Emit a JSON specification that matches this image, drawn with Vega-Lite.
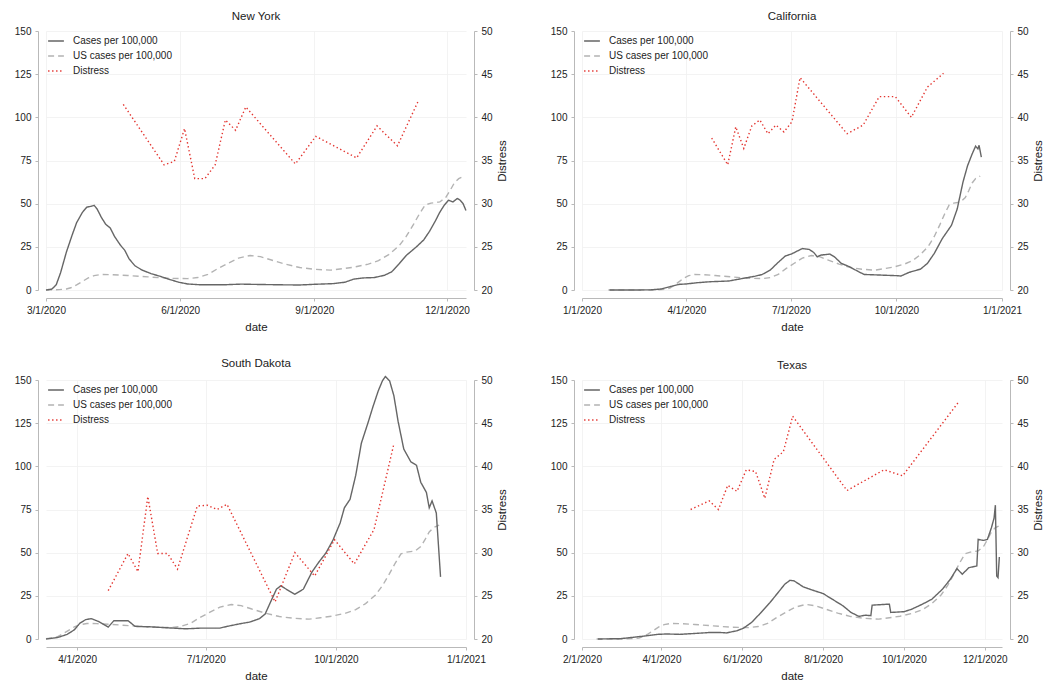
{
  "$schema": "https://vega.github.io/schema/vega-lite/v6.json",
  "description": "Cases per 100,000 vs distress, four states",
  "background": "white",
  "padding": {"left": 14, "top": 10, "right": 4, "bottom": 4},
  "config": {
    "font": "Liberation Sans",
    "view": {"stroke": null},
    "axis": {
      "labelFontSize": 10, "labelColor": "#222222", "labelPadding": 4,
      "titleFontSize": 11.5, "titleFontWeight": "normal", "titleColor": "#222222",
      "domainColor": "#b9b9b9", "tickColor": "#b9b9b9", "tickSize": 3,
      "gridColor": "#f0f0f0", "gridWidth": 0.8
    },
    "axisX": {"titlePadding": 6},
    "title": {"fontSize": 11.5, "fontWeight": "normal", "color": "#222222", "offset": 4},
    "legend": {
      "orient": "top-left", "title": null, "offset": 1, "padding": 0,
      "labelFontSize": 10, "labelColor": "#222222", "labelOffset": 8,
      "symbolType": "stroke", "symbolSize": 250, "symbolStrokeWidth": 1.1, "rowPadding": 1
    },
    "line": {"strokeWidth": 1.4}
  },
  "datasets": {
    "cases": [
      {"state": "US", "date": "2020-01-24", "series": "US cases per 100,000", "value": 0},
      {"state": "US", "date": "2020-02-12", "series": "US cases per 100,000", "value": 0},
      {"state": "US", "date": "2020-03-01", "series": "US cases per 100,000", "value": 0},
      {"state": "US", "date": "2020-03-10", "series": "US cases per 100,000", "value": 0.2},
      {"state": "US", "date": "2020-03-15", "series": "US cases per 100,000", "value": 0.6},
      {"state": "US", "date": "2020-03-18", "series": "US cases per 100,000", "value": 1.3},
      {"state": "US", "date": "2020-03-22", "series": "US cases per 100,000", "value": 3},
      {"state": "US", "date": "2020-03-26", "series": "US cases per 100,000", "value": 5},
      {"state": "US", "date": "2020-03-30", "series": "US cases per 100,000", "value": 7},
      {"state": "US", "date": "2020-04-03", "series": "US cases per 100,000", "value": 8.3},
      {"state": "US", "date": "2020-04-08", "series": "US cases per 100,000", "value": 9},
      {"state": "US", "date": "2020-04-15", "series": "US cases per 100,000", "value": 8.9},
      {"state": "US", "date": "2020-04-26", "series": "US cases per 100,000", "value": 8.4},
      {"state": "US", "date": "2020-05-10", "series": "US cases per 100,000", "value": 7.6},
      {"state": "US", "date": "2020-05-24", "series": "US cases per 100,000", "value": 6.8},
      {"state": "US", "date": "2020-06-06", "series": "US cases per 100,000", "value": 6.6},
      {"state": "US", "date": "2020-06-13", "series": "US cases per 100,000", "value": 7.2},
      {"state": "US", "date": "2020-06-20", "series": "US cases per 100,000", "value": 9},
      {"state": "US", "date": "2020-06-27", "series": "US cases per 100,000", "value": 12.5},
      {"state": "US", "date": "2020-07-04", "series": "US cases per 100,000", "value": 15.5},
      {"state": "US", "date": "2020-07-11", "series": "US cases per 100,000", "value": 18.5},
      {"state": "US", "date": "2020-07-19", "series": "US cases per 100,000", "value": 20},
      {"state": "US", "date": "2020-07-26", "series": "US cases per 100,000", "value": 19.3},
      {"state": "US", "date": "2020-08-02", "series": "US cases per 100,000", "value": 17.5},
      {"state": "US", "date": "2020-08-12", "series": "US cases per 100,000", "value": 15},
      {"state": "US", "date": "2020-08-22", "series": "US cases per 100,000", "value": 13},
      {"state": "US", "date": "2020-09-01", "series": "US cases per 100,000", "value": 12},
      {"state": "US", "date": "2020-09-12", "series": "US cases per 100,000", "value": 11.5},
      {"state": "US", "date": "2020-09-20", "series": "US cases per 100,000", "value": 12.3},
      {"state": "US", "date": "2020-09-28", "series": "US cases per 100,000", "value": 13.2},
      {"state": "US", "date": "2020-10-08", "series": "US cases per 100,000", "value": 15},
      {"state": "US", "date": "2020-10-15", "series": "US cases per 100,000", "value": 17},
      {"state": "US", "date": "2020-10-22", "series": "US cases per 100,000", "value": 20.5},
      {"state": "US", "date": "2020-10-29", "series": "US cases per 100,000", "value": 25.5},
      {"state": "US", "date": "2020-11-03", "series": "US cases per 100,000", "value": 31},
      {"state": "US", "date": "2020-11-08", "series": "US cases per 100,000", "value": 38},
      {"state": "US", "date": "2020-11-12", "series": "US cases per 100,000", "value": 44},
      {"state": "US", "date": "2020-11-16", "series": "US cases per 100,000", "value": 49.3},
      {"state": "US", "date": "2020-11-20", "series": "US cases per 100,000", "value": 50.3},
      {"state": "US", "date": "2020-11-26", "series": "US cases per 100,000", "value": 51},
      {"state": "US", "date": "2020-11-30", "series": "US cases per 100,000", "value": 53.5},
      {"state": "US", "date": "2020-12-03", "series": "US cases per 100,000", "value": 57.5},
      {"state": "US", "date": "2020-12-06", "series": "US cases per 100,000", "value": 62},
      {"state": "US", "date": "2020-12-09", "series": "US cases per 100,000", "value": 64.5},
      {"state": "US", "date": "2020-12-13", "series": "US cases per 100,000", "value": 66},

      {"state": "New York", "date": "2020-03-01", "series": "Cases per 100,000", "value": 0},
      {"state": "New York", "date": "2020-03-05", "series": "Cases per 100,000", "value": 0.5},
      {"state": "New York", "date": "2020-03-08", "series": "Cases per 100,000", "value": 3},
      {"state": "New York", "date": "2020-03-11", "series": "Cases per 100,000", "value": 10},
      {"state": "New York", "date": "2020-03-15", "series": "Cases per 100,000", "value": 22},
      {"state": "New York", "date": "2020-03-19", "series": "Cases per 100,000", "value": 32},
      {"state": "New York", "date": "2020-03-22", "series": "Cases per 100,000", "value": 39},
      {"state": "New York", "date": "2020-03-26", "series": "Cases per 100,000", "value": 45},
      {"state": "New York", "date": "2020-03-29", "series": "Cases per 100,000", "value": 48},
      {"state": "New York", "date": "2020-04-01", "series": "Cases per 100,000", "value": 48.5},
      {"state": "New York", "date": "2020-04-03", "series": "Cases per 100,000", "value": 49},
      {"state": "New York", "date": "2020-04-05", "series": "Cases per 100,000", "value": 47},
      {"state": "New York", "date": "2020-04-08", "series": "Cases per 100,000", "value": 42},
      {"state": "New York", "date": "2020-04-11", "series": "Cases per 100,000", "value": 38},
      {"state": "New York", "date": "2020-04-14", "series": "Cases per 100,000", "value": 36},
      {"state": "New York", "date": "2020-04-17", "series": "Cases per 100,000", "value": 31},
      {"state": "New York", "date": "2020-04-21", "series": "Cases per 100,000", "value": 26},
      {"state": "New York", "date": "2020-04-24", "series": "Cases per 100,000", "value": 23},
      {"state": "New York", "date": "2020-04-27", "series": "Cases per 100,000", "value": 18},
      {"state": "New York", "date": "2020-05-01", "series": "Cases per 100,000", "value": 14},
      {"state": "New York", "date": "2020-05-06", "series": "Cases per 100,000", "value": 11.5},
      {"state": "New York", "date": "2020-05-12", "series": "Cases per 100,000", "value": 9.5},
      {"state": "New York", "date": "2020-05-18", "series": "Cases per 100,000", "value": 8},
      {"state": "New York", "date": "2020-05-24", "series": "Cases per 100,000", "value": 6.3},
      {"state": "New York", "date": "2020-05-31", "series": "Cases per 100,000", "value": 4.5},
      {"state": "New York", "date": "2020-06-06", "series": "Cases per 100,000", "value": 3.5},
      {"state": "New York", "date": "2020-06-15", "series": "Cases per 100,000", "value": 3},
      {"state": "New York", "date": "2020-06-30", "series": "Cases per 100,000", "value": 3},
      {"state": "New York", "date": "2020-07-13", "series": "Cases per 100,000", "value": 3.4},
      {"state": "New York", "date": "2020-07-25", "series": "Cases per 100,000", "value": 3.2},
      {"state": "New York", "date": "2020-08-10", "series": "Cases per 100,000", "value": 3},
      {"state": "New York", "date": "2020-08-22", "series": "Cases per 100,000", "value": 2.9},
      {"state": "New York", "date": "2020-09-01", "series": "Cases per 100,000", "value": 3.3},
      {"state": "New York", "date": "2020-09-14", "series": "Cases per 100,000", "value": 3.7},
      {"state": "New York", "date": "2020-09-22", "series": "Cases per 100,000", "value": 4.5},
      {"state": "New York", "date": "2020-09-28", "series": "Cases per 100,000", "value": 6.3},
      {"state": "New York", "date": "2020-10-05", "series": "Cases per 100,000", "value": 7},
      {"state": "New York", "date": "2020-10-12", "series": "Cases per 100,000", "value": 7.2},
      {"state": "New York", "date": "2020-10-19", "series": "Cases per 100,000", "value": 8.5},
      {"state": "New York", "date": "2020-10-24", "series": "Cases per 100,000", "value": 10.5},
      {"state": "New York", "date": "2020-10-29", "series": "Cases per 100,000", "value": 15},
      {"state": "New York", "date": "2020-11-03", "series": "Cases per 100,000", "value": 20},
      {"state": "New York", "date": "2020-11-10", "series": "Cases per 100,000", "value": 25},
      {"state": "New York", "date": "2020-11-15", "series": "Cases per 100,000", "value": 29},
      {"state": "New York", "date": "2020-11-19", "series": "Cases per 100,000", "value": 34},
      {"state": "New York", "date": "2020-11-23", "series": "Cases per 100,000", "value": 40},
      {"state": "New York", "date": "2020-11-26", "series": "Cases per 100,000", "value": 45},
      {"state": "New York", "date": "2020-11-29", "series": "Cases per 100,000", "value": 49},
      {"state": "New York", "date": "2020-12-02", "series": "Cases per 100,000", "value": 52},
      {"state": "New York", "date": "2020-12-05", "series": "Cases per 100,000", "value": 51},
      {"state": "New York", "date": "2020-12-08", "series": "Cases per 100,000", "value": 53},
      {"state": "New York", "date": "2020-12-10", "series": "Cases per 100,000", "value": 52},
      {"state": "New York", "date": "2020-12-12", "series": "Cases per 100,000", "value": 50},
      {"state": "New York", "date": "2020-12-14", "series": "Cases per 100,000", "value": 46},

      {"state": "California", "date": "2020-01-25", "series": "Cases per 100,000", "value": 0},
      {"state": "California", "date": "2020-02-15", "series": "Cases per 100,000", "value": 0},
      {"state": "California", "date": "2020-03-01", "series": "Cases per 100,000", "value": 0.1},
      {"state": "California", "date": "2020-03-10", "series": "Cases per 100,000", "value": 0.6},
      {"state": "California", "date": "2020-03-18", "series": "Cases per 100,000", "value": 2},
      {"state": "California", "date": "2020-03-26", "series": "Cases per 100,000", "value": 3.3},
      {"state": "California", "date": "2020-04-01", "series": "Cases per 100,000", "value": 3.5},
      {"state": "California", "date": "2020-04-10", "series": "Cases per 100,000", "value": 4.2},
      {"state": "California", "date": "2020-04-22", "series": "Cases per 100,000", "value": 4.8},
      {"state": "California", "date": "2020-05-08", "series": "Cases per 100,000", "value": 5.2},
      {"state": "California", "date": "2020-05-20", "series": "Cases per 100,000", "value": 6.7},
      {"state": "California", "date": "2020-05-31", "series": "Cases per 100,000", "value": 8},
      {"state": "California", "date": "2020-06-06", "series": "Cases per 100,000", "value": 9},
      {"state": "California", "date": "2020-06-13", "series": "Cases per 100,000", "value": 11.5},
      {"state": "California", "date": "2020-06-19", "series": "Cases per 100,000", "value": 15.4},
      {"state": "California", "date": "2020-06-26", "series": "Cases per 100,000", "value": 19.6},
      {"state": "California", "date": "2020-07-02", "series": "Cases per 100,000", "value": 21},
      {"state": "California", "date": "2020-07-07", "series": "Cases per 100,000", "value": 22.7},
      {"state": "California", "date": "2020-07-11", "series": "Cases per 100,000", "value": 24},
      {"state": "California", "date": "2020-07-17", "series": "Cases per 100,000", "value": 23.5},
      {"state": "California", "date": "2020-07-21", "series": "Cases per 100,000", "value": 21.7},
      {"state": "California", "date": "2020-07-24", "series": "Cases per 100,000", "value": 19.2},
      {"state": "California", "date": "2020-07-27", "series": "Cases per 100,000", "value": 20.2},
      {"state": "California", "date": "2020-08-04", "series": "Cases per 100,000", "value": 20.8},
      {"state": "California", "date": "2020-08-08", "series": "Cases per 100,000", "value": 19.2},
      {"state": "California", "date": "2020-08-14", "series": "Cases per 100,000", "value": 15.4},
      {"state": "California", "date": "2020-08-21", "series": "Cases per 100,000", "value": 13.5},
      {"state": "California", "date": "2020-08-29", "series": "Cases per 100,000", "value": 10.6},
      {"state": "California", "date": "2020-09-03", "series": "Cases per 100,000", "value": 9},
      {"state": "California", "date": "2020-09-15", "series": "Cases per 100,000", "value": 8.7},
      {"state": "California", "date": "2020-10-01", "series": "Cases per 100,000", "value": 8.3},
      {"state": "California", "date": "2020-10-05", "series": "Cases per 100,000", "value": 8.1},
      {"state": "California", "date": "2020-10-12", "series": "Cases per 100,000", "value": 10.2},
      {"state": "California", "date": "2020-10-22", "series": "Cases per 100,000", "value": 12.1},
      {"state": "California", "date": "2020-10-28", "series": "Cases per 100,000", "value": 15.4},
      {"state": "California", "date": "2020-11-03", "series": "Cases per 100,000", "value": 21.2},
      {"state": "California", "date": "2020-11-10", "series": "Cases per 100,000", "value": 29.8},
      {"state": "California", "date": "2020-11-18", "series": "Cases per 100,000", "value": 37.5},
      {"state": "California", "date": "2020-11-23", "series": "Cases per 100,000", "value": 47},
      {"state": "California", "date": "2020-11-28", "series": "Cases per 100,000", "value": 62.5},
      {"state": "California", "date": "2020-12-02", "series": "Cases per 100,000", "value": 72},
      {"state": "California", "date": "2020-12-06", "series": "Cases per 100,000", "value": 78.8},
      {"state": "California", "date": "2020-12-09", "series": "Cases per 100,000", "value": 83.3},
      {"state": "California", "date": "2020-12-11", "series": "Cases per 100,000", "value": 81.7},
      {"state": "California", "date": "2020-12-12", "series": "Cases per 100,000", "value": 83.8},
      {"state": "California", "date": "2020-12-14", "series": "Cases per 100,000", "value": 77},

      {"state": "South Dakota", "date": "2020-03-10", "series": "Cases per 100,000", "value": 0},
      {"state": "South Dakota", "date": "2020-03-18", "series": "Cases per 100,000", "value": 0.8},
      {"state": "South Dakota", "date": "2020-03-25", "series": "Cases per 100,000", "value": 2.7},
      {"state": "South Dakota", "date": "2020-03-30", "series": "Cases per 100,000", "value": 5.3},
      {"state": "South Dakota", "date": "2020-04-03", "series": "Cases per 100,000", "value": 9.2},
      {"state": "South Dakota", "date": "2020-04-07", "series": "Cases per 100,000", "value": 11.2},
      {"state": "South Dakota", "date": "2020-04-11", "series": "Cases per 100,000", "value": 11.8},
      {"state": "South Dakota", "date": "2020-04-16", "series": "Cases per 100,000", "value": 10.2},
      {"state": "South Dakota", "date": "2020-04-21", "series": "Cases per 100,000", "value": 7.9},
      {"state": "South Dakota", "date": "2020-04-23", "series": "Cases per 100,000", "value": 6.9},
      {"state": "South Dakota", "date": "2020-04-27", "series": "Cases per 100,000", "value": 10.6},
      {"state": "South Dakota", "date": "2020-05-07", "series": "Cases per 100,000", "value": 10.6},
      {"state": "South Dakota", "date": "2020-05-12", "series": "Cases per 100,000", "value": 7.3},
      {"state": "South Dakota", "date": "2020-05-22", "series": "Cases per 100,000", "value": 7.1},
      {"state": "South Dakota", "date": "2020-06-08", "series": "Cases per 100,000", "value": 6.3},
      {"state": "South Dakota", "date": "2020-06-17", "series": "Cases per 100,000", "value": 5.9},
      {"state": "South Dakota", "date": "2020-06-27", "series": "Cases per 100,000", "value": 6.3},
      {"state": "South Dakota", "date": "2020-07-11", "series": "Cases per 100,000", "value": 6.3},
      {"state": "South Dakota", "date": "2020-07-16", "series": "Cases per 100,000", "value": 7.3},
      {"state": "South Dakota", "date": "2020-07-25", "series": "Cases per 100,000", "value": 8.8},
      {"state": "South Dakota", "date": "2020-08-01", "series": "Cases per 100,000", "value": 9.8},
      {"state": "South Dakota", "date": "2020-08-08", "series": "Cases per 100,000", "value": 11.8},
      {"state": "South Dakota", "date": "2020-08-12", "series": "Cases per 100,000", "value": 14.5},
      {"state": "South Dakota", "date": "2020-08-15", "series": "Cases per 100,000", "value": 20},
      {"state": "South Dakota", "date": "2020-08-20", "series": "Cases per 100,000", "value": 28.9},
      {"state": "South Dakota", "date": "2020-08-23", "series": "Cases per 100,000", "value": 30.8},
      {"state": "South Dakota", "date": "2020-08-28", "series": "Cases per 100,000", "value": 28.3},
      {"state": "South Dakota", "date": "2020-09-02", "series": "Cases per 100,000", "value": 25.9},
      {"state": "South Dakota", "date": "2020-09-08", "series": "Cases per 100,000", "value": 28.9},
      {"state": "South Dakota", "date": "2020-09-14", "series": "Cases per 100,000", "value": 38.7},
      {"state": "South Dakota", "date": "2020-09-19", "series": "Cases per 100,000", "value": 44.6},
      {"state": "South Dakota", "date": "2020-09-24", "series": "Cases per 100,000", "value": 49.9},
      {"state": "South Dakota", "date": "2020-09-29", "series": "Cases per 100,000", "value": 57.4},
      {"state": "South Dakota", "date": "2020-10-04", "series": "Cases per 100,000", "value": 67.2},
      {"state": "South Dakota", "date": "2020-10-07", "series": "Cases per 100,000", "value": 76},
      {"state": "South Dakota", "date": "2020-10-11", "series": "Cases per 100,000", "value": 80.9},
      {"state": "South Dakota", "date": "2020-10-15", "series": "Cases per 100,000", "value": 94.7},
      {"state": "South Dakota", "date": "2020-10-19", "series": "Cases per 100,000", "value": 113.4},
      {"state": "South Dakota", "date": "2020-10-24", "series": "Cases per 100,000", "value": 126},
      {"state": "South Dakota", "date": "2020-10-27", "series": "Cases per 100,000", "value": 134},
      {"state": "South Dakota", "date": "2020-10-31", "series": "Cases per 100,000", "value": 143.8},
      {"state": "South Dakota", "date": "2020-11-03", "series": "Cases per 100,000", "value": 149.7},
      {"state": "South Dakota", "date": "2020-11-05", "series": "Cases per 100,000", "value": 152},
      {"state": "South Dakota", "date": "2020-11-08", "series": "Cases per 100,000", "value": 149.5},
      {"state": "South Dakota", "date": "2020-11-11", "series": "Cases per 100,000", "value": 140.9},
      {"state": "South Dakota", "date": "2020-11-14", "series": "Cases per 100,000", "value": 126},
      {"state": "South Dakota", "date": "2020-11-18", "series": "Cases per 100,000", "value": 110},
      {"state": "South Dakota", "date": "2020-11-23", "series": "Cases per 100,000", "value": 102.6},
      {"state": "South Dakota", "date": "2020-11-27", "series": "Cases per 100,000", "value": 100.6},
      {"state": "South Dakota", "date": "2020-11-30", "series": "Cases per 100,000", "value": 90.8},
      {"state": "South Dakota", "date": "2020-12-04", "series": "Cases per 100,000", "value": 84.9},
      {"state": "South Dakota", "date": "2020-12-06", "series": "Cases per 100,000", "value": 76},
      {"state": "South Dakota", "date": "2020-12-08", "series": "Cases per 100,000", "value": 80},
      {"state": "South Dakota", "date": "2020-12-11", "series": "Cases per 100,000", "value": 73},
      {"state": "South Dakota", "date": "2020-12-14", "series": "Cases per 100,000", "value": 36},

      {"state": "Texas", "date": "2020-02-13", "series": "Cases per 100,000", "value": 0},
      {"state": "Texas", "date": "2020-03-01", "series": "Cases per 100,000", "value": 0.2},
      {"state": "Texas", "date": "2020-03-11", "series": "Cases per 100,000", "value": 1},
      {"state": "Texas", "date": "2020-03-21", "series": "Cases per 100,000", "value": 1.9},
      {"state": "Texas", "date": "2020-03-29", "series": "Cases per 100,000", "value": 2.7},
      {"state": "Texas", "date": "2020-04-05", "series": "Cases per 100,000", "value": 2.9},
      {"state": "Texas", "date": "2020-04-15", "series": "Cases per 100,000", "value": 2.7},
      {"state": "Texas", "date": "2020-04-28", "series": "Cases per 100,000", "value": 3.3},
      {"state": "Texas", "date": "2020-05-08", "series": "Cases per 100,000", "value": 3.8},
      {"state": "Texas", "date": "2020-05-15", "series": "Cases per 100,000", "value": 3.8},
      {"state": "Texas", "date": "2020-05-20", "series": "Cases per 100,000", "value": 3.5},
      {"state": "Texas", "date": "2020-05-28", "series": "Cases per 100,000", "value": 4.8},
      {"state": "Texas", "date": "2020-06-02", "series": "Cases per 100,000", "value": 6.3},
      {"state": "Texas", "date": "2020-06-08", "series": "Cases per 100,000", "value": 9.6},
      {"state": "Texas", "date": "2020-06-14", "series": "Cases per 100,000", "value": 14.4},
      {"state": "Texas", "date": "2020-06-22", "series": "Cases per 100,000", "value": 21.2},
      {"state": "Texas", "date": "2020-06-28", "series": "Cases per 100,000", "value": 26.9},
      {"state": "Texas", "date": "2020-07-03", "series": "Cases per 100,000", "value": 31.7},
      {"state": "Texas", "date": "2020-07-07", "series": "Cases per 100,000", "value": 34},
      {"state": "Texas", "date": "2020-07-10", "series": "Cases per 100,000", "value": 33.7},
      {"state": "Texas", "date": "2020-07-17", "series": "Cases per 100,000", "value": 30.2},
      {"state": "Texas", "date": "2020-07-24", "series": "Cases per 100,000", "value": 28.3},
      {"state": "Texas", "date": "2020-08-01", "series": "Cases per 100,000", "value": 26.3},
      {"state": "Texas", "date": "2020-08-08", "series": "Cases per 100,000", "value": 23},
      {"state": "Texas", "date": "2020-08-16", "series": "Cases per 100,000", "value": 19.2},
      {"state": "Texas", "date": "2020-08-22", "series": "Cases per 100,000", "value": 15.4},
      {"state": "Texas", "date": "2020-08-28", "series": "Cases per 100,000", "value": 13.1},
      {"state": "Texas", "date": "2020-09-02", "series": "Cases per 100,000", "value": 13.8},
      {"state": "Texas", "date": "2020-09-06", "series": "Cases per 100,000", "value": 13.5},
      {"state": "Texas", "date": "2020-09-07", "series": "Cases per 100,000", "value": 19.6},
      {"state": "Texas", "date": "2020-09-20", "series": "Cases per 100,000", "value": 20.2},
      {"state": "Texas", "date": "2020-09-21", "series": "Cases per 100,000", "value": 15.4},
      {"state": "Texas", "date": "2020-10-01", "series": "Cases per 100,000", "value": 15.8},
      {"state": "Texas", "date": "2020-10-07", "series": "Cases per 100,000", "value": 17.3},
      {"state": "Texas", "date": "2020-10-15", "series": "Cases per 100,000", "value": 20.2},
      {"state": "Texas", "date": "2020-10-22", "series": "Cases per 100,000", "value": 23},
      {"state": "Texas", "date": "2020-10-30", "series": "Cases per 100,000", "value": 28.8},
      {"state": "Texas", "date": "2020-11-05", "series": "Cases per 100,000", "value": 34.6},
      {"state": "Texas", "date": "2020-11-10", "series": "Cases per 100,000", "value": 40.8},
      {"state": "Texas", "date": "2020-11-14", "series": "Cases per 100,000", "value": 37.5},
      {"state": "Texas", "date": "2020-11-19", "series": "Cases per 100,000", "value": 41.3},
      {"state": "Texas", "date": "2020-11-25", "series": "Cases per 100,000", "value": 42.3},
      {"state": "Texas", "date": "2020-11-26", "series": "Cases per 100,000", "value": 57.7},
      {"state": "Texas", "date": "2020-11-30", "series": "Cases per 100,000", "value": 57.1},
      {"state": "Texas", "date": "2020-12-03", "series": "Cases per 100,000", "value": 57.7},
      {"state": "Texas", "date": "2020-12-06", "series": "Cases per 100,000", "value": 64.4},
      {"state": "Texas", "date": "2020-12-08", "series": "Cases per 100,000", "value": 70},
      {"state": "Texas", "date": "2020-12-09", "series": "Cases per 100,000", "value": 77.5},
      {"state": "Texas", "date": "2020-12-10", "series": "Cases per 100,000", "value": 36.5},
      {"state": "Texas", "date": "2020-12-11", "series": "Cases per 100,000", "value": 35.5},
      {"state": "Texas", "date": "2020-12-12", "series": "Cases per 100,000", "value": 47.5}
    ],
    "distress": [
      {"state": "New York", "date": "2020-04-23", "series": "Distress", "value": 41.5},
      {"state": "New York", "date": "2020-05-21", "series": "Distress", "value": 34.5},
      {"state": "New York", "date": "2020-05-28", "series": "Distress", "value": 34.9},
      {"state": "New York", "date": "2020-06-04", "series": "Distress", "value": 38.7},
      {"state": "New York", "date": "2020-06-11", "series": "Distress", "value": 32.9},
      {"state": "New York", "date": "2020-06-18", "series": "Distress", "value": 32.9},
      {"state": "New York", "date": "2020-06-25", "series": "Distress", "value": 34.5},
      {"state": "New York", "date": "2020-07-02", "series": "Distress", "value": 39.7},
      {"state": "New York", "date": "2020-07-09", "series": "Distress", "value": 38.5},
      {"state": "New York", "date": "2020-07-16", "series": "Distress", "value": 41.2},
      {"state": "New York", "date": "2020-08-19", "series": "Distress", "value": 34.6},
      {"state": "New York", "date": "2020-09-02", "series": "Distress", "value": 37.8},
      {"state": "New York", "date": "2020-09-30", "series": "Distress", "value": 35.3},
      {"state": "New York", "date": "2020-10-14", "series": "Distress", "value": 39},
      {"state": "New York", "date": "2020-10-28", "series": "Distress", "value": 36.7},
      {"state": "New York", "date": "2020-11-11", "series": "Distress", "value": 41.8},

      {"state": "California", "date": "2020-04-23", "series": "Distress", "value": 37.6},
      {"state": "California", "date": "2020-05-07", "series": "Distress", "value": 34.5},
      {"state": "California", "date": "2020-05-14", "series": "Distress", "value": 38.9},
      {"state": "California", "date": "2020-05-21", "series": "Distress", "value": 36.4},
      {"state": "California", "date": "2020-05-28", "series": "Distress", "value": 39},
      {"state": "California", "date": "2020-06-04", "series": "Distress", "value": 39.7},
      {"state": "California", "date": "2020-06-11", "series": "Distress", "value": 38.1},
      {"state": "California", "date": "2020-06-18", "series": "Distress", "value": 39.1},
      {"state": "California", "date": "2020-06-25", "series": "Distress", "value": 38.3},
      {"state": "California", "date": "2020-07-02", "series": "Distress", "value": 39.5},
      {"state": "California", "date": "2020-07-09", "series": "Distress", "value": 44.6},
      {"state": "California", "date": "2020-08-19", "series": "Distress", "value": 38.1},
      {"state": "California", "date": "2020-09-02", "series": "Distress", "value": 39.1},
      {"state": "California", "date": "2020-09-16", "series": "Distress", "value": 42.4},
      {"state": "California", "date": "2020-09-30", "series": "Distress", "value": 42.4},
      {"state": "California", "date": "2020-10-14", "series": "Distress", "value": 40},
      {"state": "California", "date": "2020-10-28", "series": "Distress", "value": 43.5},
      {"state": "California", "date": "2020-11-11", "series": "Distress", "value": 45.1},

      {"state": "South Dakota", "date": "2020-04-23", "series": "Distress", "value": 25.6},
      {"state": "South Dakota", "date": "2020-05-07", "series": "Distress", "value": 29.9},
      {"state": "South Dakota", "date": "2020-05-14", "series": "Distress", "value": 27.8},
      {"state": "South Dakota", "date": "2020-05-21", "series": "Distress", "value": 36.5},
      {"state": "South Dakota", "date": "2020-05-28", "series": "Distress", "value": 29.9},
      {"state": "South Dakota", "date": "2020-06-04", "series": "Distress", "value": 29.9},
      {"state": "South Dakota", "date": "2020-06-11", "series": "Distress", "value": 28.1},
      {"state": "South Dakota", "date": "2020-06-25", "series": "Distress", "value": 35.4},
      {"state": "South Dakota", "date": "2020-07-02", "series": "Distress", "value": 35.5},
      {"state": "South Dakota", "date": "2020-07-09", "series": "Distress", "value": 35},
      {"state": "South Dakota", "date": "2020-07-16", "series": "Distress", "value": 35.6},
      {"state": "South Dakota", "date": "2020-08-19", "series": "Distress", "value": 24.3},
      {"state": "South Dakota", "date": "2020-09-02", "series": "Distress", "value": 30},
      {"state": "South Dakota", "date": "2020-09-16", "series": "Distress", "value": 27.3},
      {"state": "South Dakota", "date": "2020-09-30", "series": "Distress", "value": 31.5},
      {"state": "South Dakota", "date": "2020-10-14", "series": "Distress", "value": 28.7},
      {"state": "South Dakota", "date": "2020-10-28", "series": "Distress", "value": 32.7},
      {"state": "South Dakota", "date": "2020-11-11", "series": "Distress", "value": 42.6},

      {"state": "Texas", "date": "2020-04-23", "series": "Distress", "value": 35},
      {"state": "Texas", "date": "2020-05-07", "series": "Distress", "value": 36},
      {"state": "Texas", "date": "2020-05-14", "series": "Distress", "value": 35},
      {"state": "Texas", "date": "2020-05-21", "series": "Distress", "value": 37.8},
      {"state": "Texas", "date": "2020-05-28", "series": "Distress", "value": 37.1},
      {"state": "Texas", "date": "2020-06-04", "series": "Distress", "value": 39.6},
      {"state": "Texas", "date": "2020-06-11", "series": "Distress", "value": 39.4},
      {"state": "Texas", "date": "2020-06-18", "series": "Distress", "value": 36.3},
      {"state": "Texas", "date": "2020-06-25", "series": "Distress", "value": 40.8},
      {"state": "Texas", "date": "2020-07-02", "series": "Distress", "value": 41.7},
      {"state": "Texas", "date": "2020-07-09", "series": "Distress", "value": 45.8},
      {"state": "Texas", "date": "2020-08-19", "series": "Distress", "value": 37.2},
      {"state": "Texas", "date": "2020-09-16", "series": "Distress", "value": 39.6},
      {"state": "Texas", "date": "2020-09-30", "series": "Distress", "value": 38.9},
      {"state": "Texas", "date": "2020-11-11", "series": "Distress", "value": 47.4}
    ]
  },
  "spacing": 25,
  "resolve": {"scale": {"color": "independent", "strokeDash": "independent"}},
  "vconcat": [
    {
      "spacing": 42,
      "resolve": {"scale": {"color": "independent", "strokeDash": "independent"}},
      "hconcat": [
        {
          "title": "New York",
          "width": 420, "height": 259,
          "resolve": {"scale": {"y": "independent"}},
          "layer": [
            {
              "data": {"name": "cases"},
              "transform": [{"filter": {"or": [{"field": "state", "equal": "New York"}, {"and": [{"field": "state", "equal": "US"}, {"field": "date", "gte": {"year": 2020, "month": 3, "date": 1, "utc": true}}]}]}}],
              "mark": {"type": "line"},
              "encoding": {
                "x": {"field": "date", "type": "temporal", "title": "date",
                  "scale": {"type": "utc", "nice": false, "domain": [{"year": 2020, "month": 3, "date": 1, "utc": true}, {"year": 2020, "month": 12, "date": 14, "utc": true}]},
                  "axis": {"offset": 8, "grid": true, "labelExpr": "utcFormat(datum.value, '%-m/%-d/%Y')", "labelFlush": false,
                    "values": [{"year": 2020, "month": 3, "date": 1, "utc": true}, {"year": 2020, "month": 6, "date": 1, "utc": true}, {"year": 2020, "month": 9, "date": 1, "utc": true}, {"year": 2020, "month": 12, "date": 1, "utc": true}]}},
                "y": {"field": "value", "type": "quantitative", "title": null, "scale": {"domain": [0, 150]},
                  "axis": {"orient": "left", "offset": 8, "grid": true, "values": [0, 25, 50, 75, 100, 125, 150]}},
                "color": {"field": "series", "type": "nominal", "scale": {"domain": ["Cases per 100,000", "US cases per 100,000", "Distress"], "range": ["#666666", "#b3b3b3", "#e3342f"]}},
                "strokeDash": {"field": "series", "type": "nominal", "scale": {"domain": ["Cases per 100,000", "US cases per 100,000", "Distress"], "range": [[1, 0], [6, 4], [1.4, 2.6]]}}
              }
            },
            {
              "data": {"name": "distress"},
              "transform": [{"filter": {"field": "state", "equal": "New York"}}],
              "mark": {"type": "line"},
              "encoding": {
                "x": {"field": "date", "type": "temporal"},
                "y": {"field": "value", "type": "quantitative", "title": "Distress", "scale": {"domain": [20, 50]},
                  "axis": {"orient": "right", "offset": 8, "grid": false, "titleAngle": 270, "titleBaseline": "top", "values": [20, 25, 30, 35, 40, 45, 50]}},
                "color": {"field": "series", "type": "nominal"},
                "strokeDash": {"field": "series", "type": "nominal"}
              }
            }
          ]
        },
        {
          "title": "California",
          "width": 420, "height": 259,
          "resolve": {"scale": {"y": "independent"}},
          "layer": [
            {
              "data": {"name": "cases"},
              "transform": [{"filter": {"or": [{"field": "state", "equal": "California"}, {"and": [{"field": "state", "equal": "US"}, {"field": "date", "gte": {"year": 2020, "month": 1, "date": 24, "utc": true}}]}]}}],
              "mark": {"type": "line"},
              "encoding": {
                "x": {"field": "date", "type": "temporal", "title": "date",
                  "scale": {"type": "utc", "nice": false, "domain": [{"year": 2020, "month": 1, "date": 1, "utc": true}, {"year": 2021, "month": 1, "date": 1, "utc": true}]},
                  "axis": {"offset": 8, "grid": true, "labelExpr": "utcFormat(datum.value, '%-m/%-d/%Y')", "labelFlush": false,
                    "values": [{"year": 2020, "month": 1, "date": 1, "utc": true}, {"year": 2020, "month": 4, "date": 1, "utc": true}, {"year": 2020, "month": 7, "date": 1, "utc": true}, {"year": 2020, "month": 10, "date": 1, "utc": true}, {"year": 2021, "month": 1, "date": 1, "utc": true}]}},
                "y": {"field": "value", "type": "quantitative", "title": null, "scale": {"domain": [0, 150]},
                  "axis": {"orient": "left", "offset": 8, "grid": true, "values": [0, 25, 50, 75, 100, 125, 150]}},
                "color": {"field": "series", "type": "nominal", "scale": {"domain": ["Cases per 100,000", "US cases per 100,000", "Distress"], "range": ["#666666", "#b3b3b3", "#e3342f"]}},
                "strokeDash": {"field": "series", "type": "nominal", "scale": {"domain": ["Cases per 100,000", "US cases per 100,000", "Distress"], "range": [[1, 0], [6, 4], [1.4, 2.6]]}}
              }
            },
            {
              "data": {"name": "distress"},
              "transform": [{"filter": {"field": "state", "equal": "California"}}],
              "mark": {"type": "line"},
              "encoding": {
                "x": {"field": "date", "type": "temporal"},
                "y": {"field": "value", "type": "quantitative", "title": "Distress", "scale": {"domain": [20, 50]},
                  "axis": {"orient": "right", "offset": 8, "grid": false, "titleAngle": 270, "titleBaseline": "top", "values": [20, 25, 30, 35, 40, 45, 50]}},
                "color": {"field": "series", "type": "nominal"},
                "strokeDash": {"field": "series", "type": "nominal"}
              }
            }
          ]
        }
      ]
    },
    {
      "spacing": 42,
      "resolve": {"scale": {"color": "independent", "strokeDash": "independent"}},
      "hconcat": [
        {
          "title": "South Dakota",
          "width": 420, "height": 259,
          "resolve": {"scale": {"y": "independent"}},
          "layer": [
            {
              "data": {"name": "cases"},
              "transform": [{"filter": {"or": [{"field": "state", "equal": "South Dakota"}, {"and": [{"field": "state", "equal": "US"}, {"field": "date", "gte": {"year": 2020, "month": 3, "date": 10, "utc": true}}]}]}}],
              "mark": {"type": "line"},
              "encoding": {
                "x": {"field": "date", "type": "temporal", "title": "date",
                  "scale": {"type": "utc", "nice": false, "domain": [{"year": 2020, "month": 3, "date": 10, "utc": true}, {"year": 2021, "month": 1, "date": 1, "utc": true}]},
                  "axis": {"offset": 8, "grid": true, "labelExpr": "utcFormat(datum.value, '%-m/%-d/%Y')", "labelFlush": false,
                    "values": [{"year": 2020, "month": 4, "date": 1, "utc": true}, {"year": 2020, "month": 7, "date": 1, "utc": true}, {"year": 2020, "month": 10, "date": 1, "utc": true}, {"year": 2021, "month": 1, "date": 1, "utc": true}]}},
                "y": {"field": "value", "type": "quantitative", "title": null, "scale": {"domain": [0, 150]},
                  "axis": {"orient": "left", "offset": 8, "grid": true, "values": [0, 25, 50, 75, 100, 125, 150]}},
                "color": {"field": "series", "type": "nominal", "scale": {"domain": ["Cases per 100,000", "US cases per 100,000", "Distress"], "range": ["#666666", "#b3b3b3", "#e3342f"]}},
                "strokeDash": {"field": "series", "type": "nominal", "scale": {"domain": ["Cases per 100,000", "US cases per 100,000", "Distress"], "range": [[1, 0], [6, 4], [1.4, 2.6]]}}
              }
            },
            {
              "data": {"name": "distress"},
              "transform": [{"filter": {"field": "state", "equal": "South Dakota"}}],
              "mark": {"type": "line"},
              "encoding": {
                "x": {"field": "date", "type": "temporal"},
                "y": {"field": "value", "type": "quantitative", "title": "Distress", "scale": {"domain": [20, 50]},
                  "axis": {"orient": "right", "offset": 8, "grid": false, "titleAngle": 270, "titleBaseline": "top", "values": [20, 25, 30, 35, 40, 45, 50]}},
                "color": {"field": "series", "type": "nominal"},
                "strokeDash": {"field": "series", "type": "nominal"}
              }
            }
          ]
        },
        {
          "title": "Texas",
          "width": 420, "height": 259,
          "resolve": {"scale": {"y": "independent"}},
          "layer": [
            {
              "data": {"name": "cases"},
              "transform": [{"filter": {"or": [{"field": "state", "equal": "Texas"}, {"and": [{"field": "state", "equal": "US"}, {"field": "date", "gte": {"year": 2020, "month": 2, "date": 12, "utc": true}}]}]}}],
              "mark": {"type": "line"},
              "encoding": {
                "x": {"field": "date", "type": "temporal", "title": "date",
                  "scale": {"type": "utc", "nice": false, "domain": [{"year": 2020, "month": 2, "date": 1, "utc": true}, {"year": 2020, "month": 12, "date": 14, "utc": true}]},
                  "axis": {"offset": 8, "grid": true, "labelExpr": "utcFormat(datum.value, '%-m/%-d/%Y')", "labelFlush": false,
                    "values": [{"year": 2020, "month": 2, "date": 1, "utc": true}, {"year": 2020, "month": 4, "date": 1, "utc": true}, {"year": 2020, "month": 6, "date": 1, "utc": true}, {"year": 2020, "month": 8, "date": 1, "utc": true}, {"year": 2020, "month": 10, "date": 1, "utc": true}, {"year": 2020, "month": 12, "date": 1, "utc": true}]}},
                "y": {"field": "value", "type": "quantitative", "title": null, "scale": {"domain": [0, 150]},
                  "axis": {"orient": "left", "offset": 8, "grid": true, "values": [0, 25, 50, 75, 100, 125, 150]}},
                "color": {"field": "series", "type": "nominal", "scale": {"domain": ["Cases per 100,000", "US cases per 100,000", "Distress"], "range": ["#666666", "#b3b3b3", "#e3342f"]}},
                "strokeDash": {"field": "series", "type": "nominal", "scale": {"domain": ["Cases per 100,000", "US cases per 100,000", "Distress"], "range": [[1, 0], [6, 4], [1.4, 2.6]]}}
              }
            },
            {
              "data": {"name": "distress"},
              "transform": [{"filter": {"field": "state", "equal": "Texas"}}],
              "mark": {"type": "line"},
              "encoding": {
                "x": {"field": "date", "type": "temporal"},
                "y": {"field": "value", "type": "quantitative", "title": "Distress", "scale": {"domain": [20, 50]},
                  "axis": {"orient": "right", "offset": 8, "grid": false, "titleAngle": 270, "titleBaseline": "top", "values": [20, 25, 30, 35, 40, 45, 50]}},
                "color": {"field": "series", "type": "nominal"},
                "strokeDash": {"field": "series", "type": "nominal"}
              }
            }
          ]
        }
      ]
    }
  ]
}
